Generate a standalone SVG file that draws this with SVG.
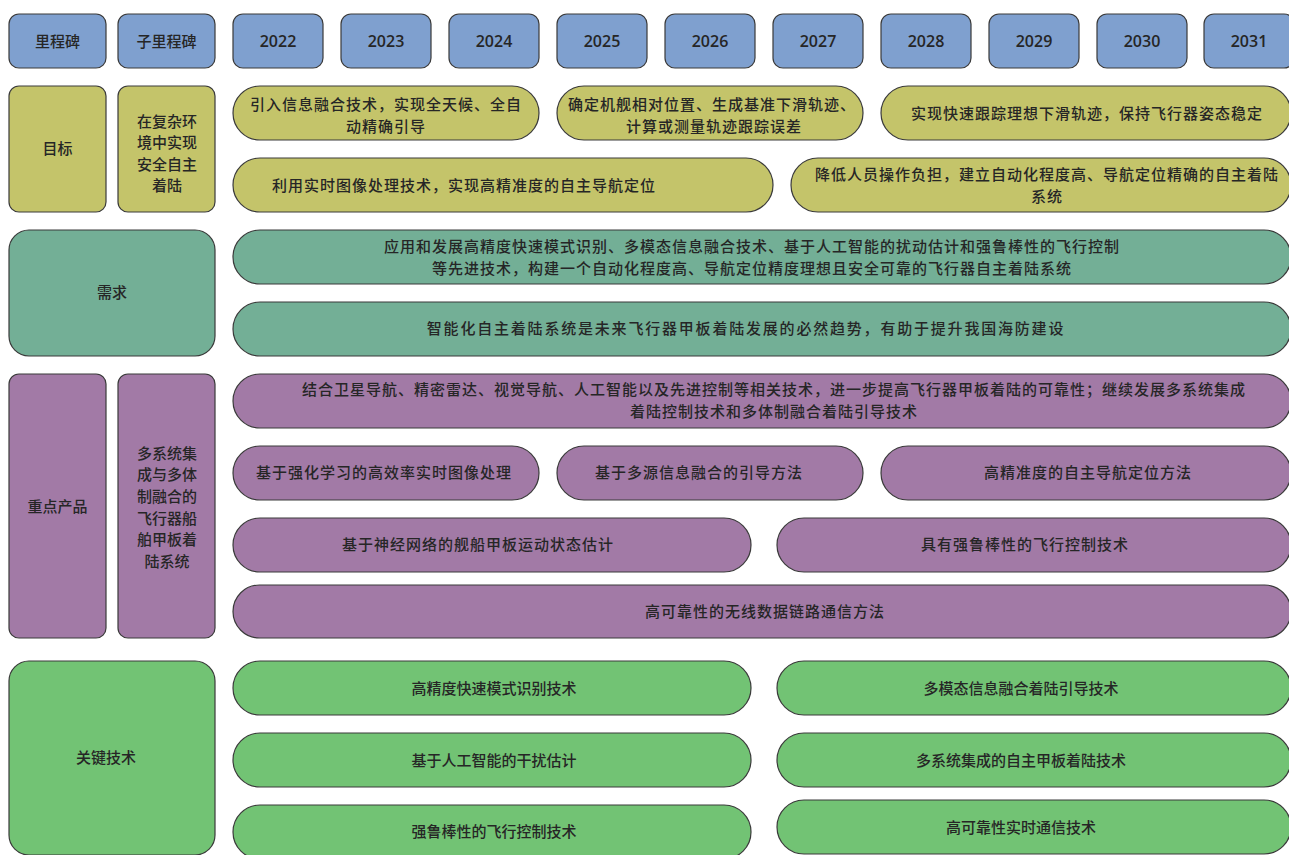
<svg xmlns="http://www.w3.org/2000/svg" width="1289" height="855" viewBox="0 0 1289 855">
<style>
rect{stroke:#3a3a3a;stroke-width:1.2}
.hd{fill:#7fa0cf}
.gl{fill:#c4c46a}
.rq{fill:#73af96}
.pr{fill:#a27aa6}
.kt{fill:#72c374}
text{font-family:"Noto Sans CJK SC","Noto Sans",sans-serif;font-size:15px;fill:#262626;text-anchor:middle;font-weight:500}
.yr{font-family:"Open Sans","Noto Sans",sans-serif;font-size:16px;font-weight:600}
.s1{letter-spacing:1px}
.s18{letter-spacing:1.8px}
</style>
<g id="header">
<g id="h-milestone"><rect class="hd" x="9" y="14" width="97" height="54" rx="10"/><text x="57.5" y="46.5">里程碑</text></g>
<g id="h-submilestone"><rect class="hd" x="118" y="14" width="97" height="54" rx="10"/><text x="166.5" y="46.5">子里程碑</text></g>
<g id="h-2022"><rect class="hd" x="233" y="14" width="90" height="54" rx="10"/><text class="yr" x="278" y="47">2022</text></g>
<g id="h-2023"><rect class="hd" x="341" y="14" width="90" height="54" rx="10"/><text class="yr" x="386" y="47">2023</text></g>
<g id="h-2024"><rect class="hd" x="449" y="14" width="90" height="54" rx="10"/><text class="yr" x="494" y="47">2024</text></g>
<g id="h-2025"><rect class="hd" x="557" y="14" width="90" height="54" rx="10"/><text class="yr" x="602" y="47">2025</text></g>
<g id="h-2026"><rect class="hd" x="665" y="14" width="90" height="54" rx="10"/><text class="yr" x="710" y="47">2026</text></g>
<g id="h-2027"><rect class="hd" x="773" y="14" width="90" height="54" rx="10"/><text class="yr" x="818" y="47">2027</text></g>
<g id="h-2028"><rect class="hd" x="881" y="14" width="90" height="54" rx="10"/><text class="yr" x="926" y="47">2028</text></g>
<g id="h-2029"><rect class="hd" x="989" y="14" width="90" height="54" rx="10"/><text class="yr" x="1034" y="47">2029</text></g>
<g id="h-2030"><rect class="hd" x="1097" y="14" width="90" height="54" rx="10"/><text class="yr" x="1142" y="47">2030</text></g>
<g id="h-2031"><rect class="hd" x="1204" y="14" width="90" height="54" rx="10"/><text class="yr" x="1249" y="47">2031</text></g>
</g>
<g id="goal">
<g id="goal-label"><rect class="gl" x="9" y="86" width="97" height="126" rx="10"/><text x="57.5" y="153.5">目标</text></g>
<g id="goal-sub"><rect class="gl" x="118" y="86" width="97" height="126" rx="10"/>
<text x="167" y="127">在复杂环</text><text x="167" y="148">境中实现</text><text x="167" y="169.5">安全自主</text><text x="167" y="191">着陆</text></g>
<g id="goal-1"><rect class="gl" x="233" y="86" width="306" height="54" rx="27"/><text class="s1" x="386" y="110">引入信息融合技术，实现全天候、全自</text><text class="s1" x="386" y="132">动精确引导</text></g>
<g id="goal-2"><rect class="gl" x="557" y="86" width="306" height="54" rx="27"/><text class="s1" x="712" y="110">确定机舰相对位置、生成基准下滑轨迹、</text><text class="s1" x="714" y="132">计算或测量轨迹跟踪误差</text></g>
<g id="goal-3"><rect class="gl" x="881" y="86" width="410" height="54" rx="27"/><text class="s1" x="1087" y="118.5">实现快速跟踪理想下滑轨迹，保持飞行器姿态稳定</text></g>
<g id="goal-4"><rect class="gl" x="233" y="158" width="540" height="54" rx="27"/><text class="s1" x="464" y="190.5">利用实时图像处理技术，实现高精准度的自主导航定位</text></g>
<g id="goal-5"><rect class="gl" x="791" y="158" width="500" height="54" rx="27"/><text class="s1" x="1047" y="179.5">降低人员操作负担，建立自动化程度高、导航定位精确的自主着陆</text><text class="s1" x="1047" y="201.5">系统</text></g>
</g>
<g id="requirement">
<g id="req-label"><rect class="rq" x="9" y="230" width="206" height="126" rx="20"/><text x="112" y="297.5">需求</text></g>
<g id="req-1"><rect class="rq" x="233" y="230" width="1058" height="54" rx="27"/><text class="s1" x="752" y="251.5">应用和发展高精度快速模式识别、多模态信息融合技术、基于人工智能的扰动估计和强鲁棒性的飞行控制</text><text class="s1" x="752" y="273.5">等先进技术，构建一个自动化程度高、导航定位精度理想且安全可靠的飞行器自主着陆系统</text></g>
<g id="req-2"><rect class="rq" x="233" y="302" width="1058" height="54" rx="27"/><text class="s18" x="746" y="333.5">智能化自主着陆系统是未来飞行器甲板着陆发展的必然趋势，有助于提升我国海防建设</text></g>
</g>
<g id="product">
<g id="prod-label"><rect class="pr" x="9" y="374" width="97" height="264" rx="10"/><text x="57.5" y="511.5">重点产品</text></g>
<g id="prod-sub"><rect class="pr" x="118" y="374" width="97" height="264" rx="10"/>
<text x="167" y="458.5">多系统集</text><text x="167" y="480">成与多体</text><text x="167" y="502">制融合的</text><text x="167" y="523.5">飞行器船</text><text x="167" y="545">舶甲板着</text><text x="167" y="566.5">陆系统</text></g>
<g id="prod-1"><rect class="pr" x="233" y="374" width="1058" height="54" rx="27"/><text class="s1" x="774" y="394.5">结合卫星导航、精密雷达、视觉导航、人工智能以及先进控制等相关技术，进一步提高飞行器甲板着陆的可靠性；继续发展多系统集成</text><text class="s1" x="774" y="416.5">着陆控制技术和多体制融合着陆引导技术</text></g>
<g id="prod-2"><rect class="pr" x="233" y="446" width="306" height="54" rx="27"/><text class="s1" x="384" y="477.5">基于强化学习的高效率实时图像处理</text></g>
<g id="prod-3"><rect class="pr" x="557" y="446" width="306" height="54" rx="27"/><text class="s1" x="699" y="477.5">基于多源信息融合的引导方法</text></g>
<g id="prod-4"><rect class="pr" x="881" y="446" width="410" height="54" rx="27"/><text class="s1" x="1088" y="477.5">高精准度的自主导航定位方法</text></g>
<g id="prod-5"><rect class="pr" x="233" y="518" width="518" height="54" rx="27"/><text class="s1" x="478" y="549.5">基于神经网络的舰船甲板运动状态估计</text></g>
<g id="prod-6"><rect class="pr" x="777" y="518" width="514" height="54" rx="27"/><text class="s1" x="1025" y="549.5">具有强鲁棒性的飞行控制技术</text></g>
<g id="prod-7"><rect class="pr" x="233" y="585" width="1058" height="53" rx="26.5"/><text class="s1" x="765" y="616.5">高可靠性的无线数据链路通信方法</text></g>
</g>
<g id="keytech">
<g id="kt-label"><rect class="kt" x="9" y="661" width="206" height="194" rx="20"/><text x="106" y="763">关键技术</text></g>
<g id="kt-1"><rect class="kt" x="233" y="661" width="518" height="54" rx="27"/><text x="494" y="693.5">高精度快速模式识别技术</text></g>
<g id="kt-2"><rect class="kt" x="777" y="661" width="514" height="54" rx="27"/><text x="1021" y="693.5">多模态信息融合着陆引导技术</text></g>
<g id="kt-3"><rect class="kt" x="233" y="733" width="518" height="54" rx="27"/><text x="494" y="765.5">基于人工智能的干扰估计</text></g>
<g id="kt-4"><rect class="kt" x="777" y="733" width="514" height="54" rx="27"/><text x="1021" y="765.5">多系统集成的自主甲板着陆技术</text></g>
<g id="kt-5"><rect class="kt" x="233" y="805" width="518" height="54" rx="27"/><text x="494" y="836.5">强鲁棒性的飞行控制技术</text></g>
<g id="kt-6"><rect class="kt" x="777" y="800" width="514" height="54" rx="27"/><text x="1021" y="832.5">高可靠性实时通信技术</text></g>
</g>
<g id="connectors"/>
</svg>
